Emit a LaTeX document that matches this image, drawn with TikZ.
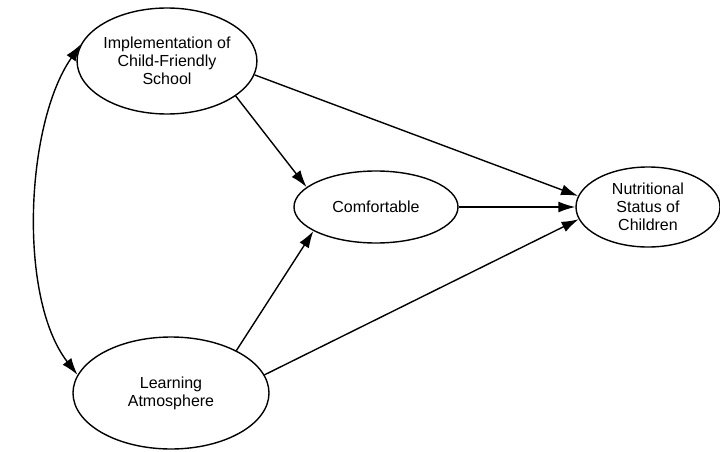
\documentclass[tikz,border=0pt]{standalone}
\usepackage{fontspec}
\setmainfont{Liberation Sans}
\usetikzlibrary{shapes.geometric}
\usetikzlibrary{arrows.meta}
\tikzset{oval/.style = {draw, ellipse, inner sep = 0, align = center, font = \fontsize{16}{18}\selectfont}}
\tikzset{every picture/.style={
    every path/.style={line width=1.4pt},
}}

\begin{document}
\begin{tikzpicture}[x=1pt, y=1pt, >={Latex[length=17pt,width=11pt]}]
      \useasboundingbox (0,0) rectangle (720,451);

      \node[oval, minimum width=174, minimum height=106] (impl) at (167,390) {Implementation of\\Child-Friendly\\School};
      \node[oval, minimum width=164, minimum height=72] (comf) at (376,244) {Comfortable};
      \node[oval, minimum width=144, minimum height=80] (nutr) at (648,244) {Nutritional\\Status of\\Children};
      \node[oval, minimum width=196, minimum height=112] (learn) at (171,58) {Learning\\Atmosphere};

      \draw[->] (impl.-27) -- (comf.164);
      \draw[->] (impl.-9) -- (nutr.171);
      \draw[->] (comf) -- (nutr);
      \draw[->] (learn.33) -- (comf.201);
      \draw[->] (learn.11) -- (nutr.190);

      \draw[<->] (impl.169) to[out=235, in=128, looseness=0.75] (learn.169);
  \end{tikzpicture}
\end{document}
